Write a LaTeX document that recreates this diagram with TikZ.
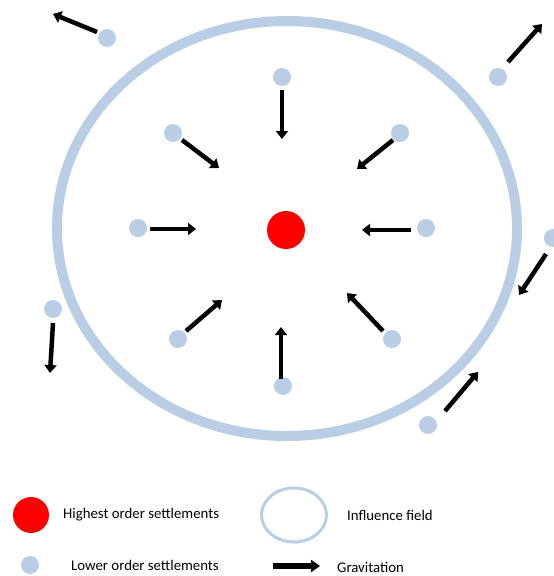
\documentclass[tikz,border=0pt]{standalone}
\usepackage{fontspec}
\setmainfont{Carlito}
\usetikzlibrary{arrows.meta}
\definecolor{lblue}{RGB}{185,205,229}
\tikzset{
  dot/.style={circle,fill=lblue,minimum size=18pt,inner sep=0pt},
  bigdot/.style={circle,fill=red,minimum size=38pt,inner sep=0pt},
  grav/.style={line width=4.5pt,-{Triangle[width=12pt,length=8pt]}},
  field/.style={draw=lblue,line width=10pt},
  lab/.style={anchor=west,inner sep=0pt,font=\fontsize{14.8}{17}\selectfont}
}
\begin{document}
\begin{tikzpicture}[x=1pt,y=-1pt]
\useasboundingbox (0,0) rectangle (554,576);
% influence field
\draw[field] (287,228.5) ellipse [x radius=230,y radius=207.5];
% centre
\node[bigdot] (c) at (286,230) {};
% inner settlements
\node[dot] (t) at (282,77) {};
\node[dot] (ul) at (173,133) {};
\node[dot] (ur) at (400,133) {};
\node[dot] (l) at (138,228) {};
\node[dot] (r) at (426,228) {};
\node[dot] (ll) at (178,339) {};
\node[dot] (lr) at (392,339) {};
\node[dot] (b) at (283,386) {};
% outer settlements
\node[dot] (o1) at (107,38) {};
\node[dot] (o2) at (498,77) {};
\node[dot] (o3) at (553,238) {};
\node[dot] (o4) at (53,309) {};
\node[dot] (o5) at (428,425) {};
% arrow ends
\coordinate (at) at (282,139);
\coordinate (aul) at (219,168);
\coordinate (aur) at (357,169);
\coordinate (al) at (196,229);
\coordinate (ar) at (362,230);
\coordinate (all) at (222,300);
\coordinate (alr) at (347,293);
\coordinate (ab) at (281,327);
\coordinate (ao1) at (53,14);
\coordinate (ao2) at (542,24);
\coordinate (ao3) at (519,295);
\coordinate (ao4) at (50,373);
\coordinate (ao5) at (478,372);
% gravitation arrows
\draw[grav] (282,90) -- (at);
\draw[grav] (182,140) -- (aul);
\draw[grav] (393,140) -- (aur);
\draw[grav] (150,229) -- (al);
\draw[grav] (411,230) -- (ar);
\draw[grav] (186,331) -- (all);
\draw[grav] (383,331) -- (alr);
\draw[grav] (281,379) -- (ab);
\draw[grav] (97,32) -- (ao1);
\draw[grav] (508,62) -- (ao2);
\draw[grav] (546,254) -- (ao3);
\draw[grav] (53,323) -- (ao4);
\draw[grav] (445,411) -- (ao5);
% legend
\node[circle,fill=red,minimum size=36pt,inner sep=0pt] (lg1) at (31,515) {};
\node[lab] (t1) at (63,515) {Highest order settlements};
\draw[draw=lblue,line width=3pt] (294,515) ellipse [x radius=32.5,y radius=27];
\coordinate (lg2) at (294,515);
\node[lab] (t2) at (347,515) {Influence field};
\node[dot] (lg3) at (30,565) {};
\node[lab] (t3) at (71,565) {Lower order settlements};
\coordinate (g1) at (273,566);
\coordinate (g2) at (320,566);
\draw[line width=5.5pt,-{Triangle[width=12pt,length=9pt]}] (g1) -- (g2);
\node[lab] (t4) at (337,567.5) {Gravitation};
\end{tikzpicture}
\end{document}
